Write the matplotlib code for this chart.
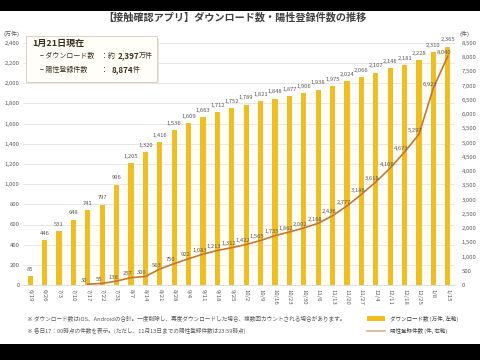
import matplotlib
matplotlib.use("Agg")
import matplotlib.pyplot as plt
from matplotlib.patches import Rectangle, FancyBboxPatch
from matplotlib.lines import Line2D

plt.rcParams['font.family'] = ['Noto Sans CJK JP', 'DejaVu Sans']

dates = ["6/19", "6/26", "7/3", "7/10", "7/17", "7/22", "7/31", "8/7", "8/14", "8/21",
         "8/28", "9/4", "9/11", "9/18", "9/25", "10/2", "10/9", "10/16", "10/23", "10/30",
         "11/6", "11/13", "11/20", "11/27", "12/4", "12/11", "12/18", "12/25", "1/8", "1/15"]
downloads = [85, 446, 531, 648, 741, 797, 996, 1205, 1320, 1416,
             1536, 1609, 1663, 1712, 1752, 1789, 1821, 1848, 1877, 1906,
             1938, 1975, 2024, 2066, 2107, 2148, 2181, 2228, 2310, 2365]
positive_start = 4  # line begins at 7/17
positives = [30, 55, 138, 257, 300, 563, 750, 922, 1083, 1213,
             1312, 1422, 1565, 1735, 1862, 2002, 2168, 2436, 2777, 3186,
             3618, 4106, 4673, 5297, 6923, 8040]
left_ticks = list(range(0, 2401, 200))
right_ticks = list(range(0, 8501, 500))

BAR = '#F2BE1A'
LINE = '#C8752F'
TXT = '#595959'

fig = plt.figure(figsize=(4.8, 3.6), dpi=100)
fig.patch.set_facecolor('white')
ax = fig.add_axes([23/480, 1-285/360, (455-23)/480, (285-43)/360])
x = list(range(len(dates)))
ax.bar(x, downloads, width=0.36, color=BAR, zorder=2)
ax.set_xlim(-0.5, len(dates)-0.5)
ax.set_ylim(0, 2400)
ax.set_yticks(left_ticks)
ax.set_yticklabels([f"{v:,}" for v in left_ticks])
ax.set_xticks(x)
ax.set_xticklabels(dates, rotation=-90)
ax.tick_params(axis='both', length=0, labelsize=4.3, colors=TXT)
ax.tick_params(axis='y', pad=2.5)
ax.tick_params(axis='x', pad=3)
ax.grid(axis='y', color='#E3E3E3', linewidth=0.6, zorder=0)
for s in ['top', 'right', 'left']:
    ax.spines[s].set_visible(False)
ax.spines['bottom'].set_color('#D9D9D9')
ax.spines['bottom'].set_linewidth(0.6)
for xi, v in zip(x, downloads):
    ax.annotate(f"{v:,}", (xi, v), xytext=(0, 3), textcoords='offset points',
                ha='center', va='bottom', fontsize=4.2, color=TXT, clip_on=False)

ax2 = ax.twinx()
ax2.set_ylim(0, 8500)
ax2.set_yticks(right_ticks)
ax2.set_yticklabels([f"{v:,}" for v in right_ticks])
ax2.tick_params(axis='y', length=0, labelsize=4.3, colors=TXT, pad=5)
for s in ax2.spines.values():
    s.set_visible(False)
lx = x[positive_start:]
ax2.plot(lx, positives, color=LINE, linewidth=1.2, zorder=3)
for xi, v in zip(lx, positives):
    ax2.annotate(f"{v:,}", (xi, v), xytext=(-2.5, 1), textcoords='offset points',
                 ha='center', va='bottom', fontsize=4.2, color=TXT)

# title and axis units
fig.text(0.49, 1-17.5/360, "【接触確認アプリ】ダウンロード数・陽性登録件数の推移", ha='center', va='center',
         fontsize=7.3, fontweight='bold', color='#404040')
fig.text(3/480, 1-34/360, "(万件)", fontsize=4.3, color=TXT, va='center')
fig.text(459/480, 1-34/360, "(件)", fontsize=4.3, color=TXT, va='center')

# annotation box
box = FancyBboxPatch((26/480, 1-82/360), 131/480, 46/360, boxstyle='square,pad=0',
                     transform=fig.transFigure, facecolor='#FFFEF8', edgecolor='#D8D2C0',
                     linewidth=0.7, zorder=5)
shadow = FancyBboxPatch((28/480, 1-84/360), 131/480, 46/360, boxstyle='square,pad=0',
                        transform=fig.transFigure, facecolor='#E8E6E0', edgecolor='none', zorder=4)
fig.patches.extend([shadow, box])
fig.text(32/480, 1-43/360, "1月21日現在", fontsize=6.5, fontweight='bold', color='#3A2E1E',
         va='center', zorder=6)
fig.text(40/480, 1-56/360, "− ダウンロード数", fontsize=5, color='#3A2E1E', va='center', zorder=6)
fig.text(100/480, 1-56/360, "：", fontsize=5, color='#3A2E1E', va='center', zorder=6)
fig.text(108/480, 1-56/360, "約", fontsize=5, color='#3A2E1E', va='center', zorder=6)
fig.text(139/480, 1-56/360, "2,397", fontsize=5.8, fontweight='bold', color='#3A2E1E',
         va='center', ha='right', zorder=6)
fig.text(139/480, 1-56/360, "万件", fontsize=5, color='#3A2E1E', va='center', zorder=6)
fig.text(40/480, 1-70/360, "− 陽性登録件数", fontsize=5, color='#3A2E1E', va='center', zorder=6)
fig.text(100/480, 1-70/360, "：", fontsize=5, color='#3A2E1E', va='center', zorder=6)
fig.text(133/480, 1-70/360, "8,874", fontsize=5.8, fontweight='bold', color='#3A2E1E',
         va='center', ha='right', zorder=6)
fig.text(133/480, 1-70/360, "件", fontsize=5, color='#3A2E1E', va='center', zorder=6)

# footnotes
fig.text(27/480, 1-319/360,
         "※ ダウンロード数はiOS、Androidの合計。一度削除し、再度ダウンロードした場合、複数回カウントされる場合があります。",
         fontsize=4.1, color=TXT, va='center')
fig.text(27/480, 1-331/360,
         "※ 各日17：00時点の件数を表示。(ただし、11月13日までの陽性登録件数は23:59時点)",
         fontsize=4.1, color=TXT, va='center')

# legend
fig.patches.append(Rectangle((367/480, 1-321/360), 18/480, 5/360, transform=fig.transFigure,
                             facecolor=BAR, edgecolor='none'))
fig.lines.append(Line2D([367/480, 385/480], [1-331/360, 1-331/360], transform=fig.transFigure,
                        color='#D9B08C', linewidth=1.2))
fig.text(390/480, 1-319/360, "ダウンロード数 (万件, 左軸)", fontsize=4, color='#404040', va='center')
fig.text(390/480, 1-331/360, "陽性登録件数 (件, 右軸)", fontsize=4, color='#404040', va='center')

# letterbox bands
fig.patches.append(Rectangle((0, 1-11/360), 1, 11/360, transform=fig.transFigure,
                             facecolor='black', edgecolor='none', zorder=10))
fig.patches.append(Rectangle((0, 0), 1, 16/360, transform=fig.transFigure,
                             facecolor='black', edgecolor='none', zorder=10))

fig.savefig("out.png", dpi=100)
